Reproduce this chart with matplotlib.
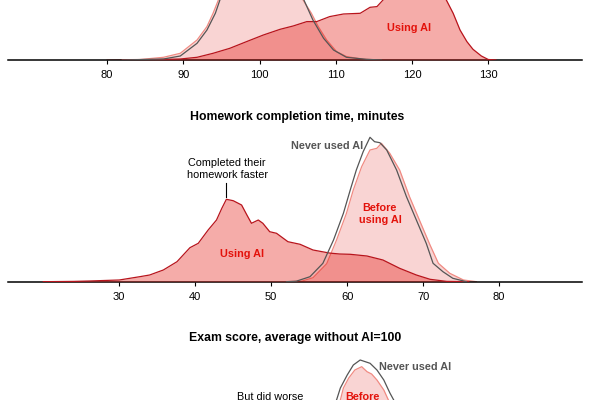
import numpy as np
import matplotlib.pyplot as plt

plt.rcParams['font.family'] = ['Liberation Sans', 'DejaVu Sans']

RED = '#e3120b'
DARK_RED = '#b8141c'
PINK_LINE = '#f08a82'
GREY = '#555555'

# --- top panel (title cut off) ---
top_ai_x = [82, 84.3, 87, 89.6, 91.8, 93.9, 96.1, 98.3, 100.5, 102.7, 104.4, 106.2, 107.5, 109.2,
            111, 113.2, 114.5, 115.4, 116.2, 117.5, 119, 120.5, 122, 123.5, 124.5, 125.4, 126.3,
            127.2, 128, 129.1, 130, 131]
top_ai_y = [0, 0.2, 0.5, 1, 2.7, 6.7, 11.7, 18.4, 25, 30.7, 34, 38.4, 38.4, 43.4,
            46, 46.7, 52.7, 53.4, 60, 68, 76, 82, 85, 80, 60, 46.7, 30,
            18.4, 10.7, 4, 0.5, 0]
top_before_x = [80, 84.3, 87.4, 89.6, 91.8, 93.1, 93.9, 94.6, 96, 98, 100, 102, 104, 105.7,
                106.8, 107.7, 108.8, 110.1, 111.4, 113.6, 116]
top_before_y = [0, 0.5, 2.7, 6.7, 20, 33.4, 46.7, 60, 80, 95, 100, 95, 80, 60,
                46.7, 33.4, 20, 8.4, 3.4, 0.7, 0]
top_never_x = [82, 87.4, 89.6, 91.8, 93.1, 94.2, 94.8, 96, 98, 100, 102, 104, 105.7, 107,
               108.4, 109.7, 111.4, 114, 116]
top_never_y = [0, 1, 4, 16.7, 30, 46.7, 60, 78, 96, 103, 97, 82, 62, 40,
               21.7, 10, 2.7, 0.7, 0]
top_ticks = [80, 90, 100, 110, 120, 130]

# --- homework completion time, minutes ---
hw_ai_x = [20, 24, 26.1, 28, 30, 32.7, 34, 35.8, 37.6, 39.3, 40.4, 41.7, 42.8, 43.5, 44.1, 45,
           46.1, 46.8, 47.4, 48.3, 48.9, 49.8, 50.7, 52.2, 53.8, 55.5, 57.7, 59, 60.4, 62.6,
           64.7, 66.9, 69.1, 70.9, 73.1, 76]
hw_ai_y = [0, 0.3, 0.7, 1.2, 1.7, 5, 6.7, 11.7, 20, 34, 38.4, 51.7, 61.7, 73.4, 82.4, 81,
           76.7, 66.7, 58.4, 61.7, 58.4, 50, 48.4, 40, 37.4, 31.7, 28.6, 27.7, 27.4, 25.7,
           21.7, 13.4, 6.7, 2.4, 0.3, 0]
hw_never_x = [52, 53.3, 55.1, 56.8, 58.2, 59.5, 60.4, 61.2, 62.1, 63, 63.6, 64.3, 65.2, 66.5,
              67.8, 69.1, 70.4, 71.3, 72.6, 73.9, 75.7]
hw_never_y = [0, 0.5, 5, 18.4, 41.7, 68.4, 91.7, 111.7, 130, 144.4, 140, 139, 131.7, 111.7,
              85, 61.7, 38.4, 18.4, 10, 3.4, 0]
hw_before_x = [52, 54, 55.5, 57.3, 58.6, 59.9, 60.8, 61.9, 63, 63.9, 64.5, 65.6, 66.9, 68.2,
               69.5, 70.9, 72, 73.5, 75.3, 77]
hw_before_y = [0, 0.5, 4, 18, 41.7, 68.4, 91.7, 115, 131.7, 133.4, 138.4, 128.4, 111.7, 85,
               61.7, 36.7, 18.4, 8.4, 1.7, 0]
hw_ticks = [30, 40, 50, 60, 70, 80]

# --- exam score, average without AI=100 ---
ex_never_x = [78, 84, 88, 91, 94, 96.9, 97.4, 98.3, 99.1, 100, 101.3, 102.2, 103.1, 103.9,
              104.4, 106, 108, 110, 112, 115, 118]
ex_never_y = [0, 2, 10, 30, 62, 100, 112, 125, 135, 140, 136.7, 130, 120, 107,
              100, 72, 45, 22, 8, 2, 0]
ex_before_x = [78, 84, 88, 91, 94, 97.4, 97.8, 98.5, 99.3, 100.2, 100.9, 101.5, 102.2, 103.1,
               103.7, 105.5, 107.5, 109.5, 111.5, 114, 117]
ex_before_y = [0, 2, 12, 32, 65, 100, 112, 122, 130, 133.3, 128.3, 126, 120, 110,
               100, 72, 45, 22, 8, 2, 0]
ex_ai_x = [70, 76, 80, 84, 88, 92, 96, 100, 104, 108]
ex_ai_y = [0, 5, 25, 60, 85, 70, 40, 15, 3, 0]


def panel(ax, xlim, ticks, ai, before, never):
    ax.fill_between(before[0], before[1], color=RED, alpha=0.18, lw=0, zorder=1)
    ax.plot(before[0], before[1], color=PINK_LINE, lw=0.9, zorder=2)
    ax.fill_between(ai[0], ai[1], color=RED, alpha=0.35, lw=0, zorder=3)
    ax.plot(ai[0], ai[1], color=DARK_RED, lw=0.9, zorder=4)
    ax.plot(never[0], never[1], color=GREY, lw=0.9, zorder=5)
    ax.set_xlim(xlim)
    ax.set_ylim(0, 150)
    ax.set_yticks([])
    ax.set_xticks(ticks)
    ax.tick_params(axis='x', length=3, width=0.8, labelsize=8, pad=4.5)
    for s in ['top', 'left', 'right']:
        ax.spines[s].set_visible(False)
    ax.spines['bottom'].set_linewidth(1.1)
    ax.patch.set_alpha(0)


fig = plt.figure(figsize=(6, 4), dpi=100)
left, width = 8 / 600, 574 / 600
lab = 7.8

ax1 = fig.add_axes([left, 0.85, width, 0.375])
panel(ax1, (67.0, 142.3), top_ticks, (top_ai_x, top_ai_y),
      (top_before_x, top_before_y), (top_never_x, top_never_y))
ax1.text(119.6, 32, 'Using AI', color=RED, fontsize=lab, fontweight='bold', ha='center', va='center')

ax2 = fig.add_axes([left, 118.3 / 400, width, 0.375])
panel(ax2, (15.36, 90.9), hw_ticks, (hw_ai_x, hw_ai_y),
      (hw_before_x, hw_before_y), (hw_never_x, hw_never_y))
ax2.text(46.15, 27.7, 'Using AI', color=RED, fontsize=lab, fontweight='bold', ha='center', va='center')
ax2.text(64.3, 67.7, 'Before\nusing AI', color=RED, fontsize=lab, fontweight='bold',
         ha='center', va='center', linespacing=1.25)
ax2.text(57.3, 135.7, 'Never used AI', color=GREY, fontsize=lab, fontweight='bold', ha='center', va='center')
ax2.text(44.2, 112.7, 'Completed their\nhomework faster', color='black', fontsize=lab,
         ha='center', va='center', linespacing=1.25)
ax2.plot([44.1, 44.1], [85, 98.5], color='black', lw=0.8)

ax3 = fig.add_axes([left, -0.25, width, 0.375])
panel(ax3, (53.8, 129.1), [], (ex_ai_x, ex_ai_y),
      (ex_before_x, ex_before_y), (ex_never_x, ex_never_y))
ax3.text(102.5, 133, 'Never used AI', color=GREY, fontsize=lab, fontweight='bold', ha='left', va='center')
ax3.text(88.2, 103, 'But did worse', color='black', fontsize=lab, ha='center', va='center')
ax3.text(100.3, 103, 'Before', color=RED, fontsize=lab, fontweight='bold', ha='center', va='center')

fig.text(297 / 600, 1 - 117 / 400, 'Homework completion time, minutes',
         fontsize=8.8, fontweight='bold', ha='center', va='center')
fig.text(295 / 600, 1 - 338 / 400, 'Exam score, average without AI=100',
         fontsize=8.8, fontweight='bold', ha='center', va='center')

fig.savefig('out.png', dpi=100)
